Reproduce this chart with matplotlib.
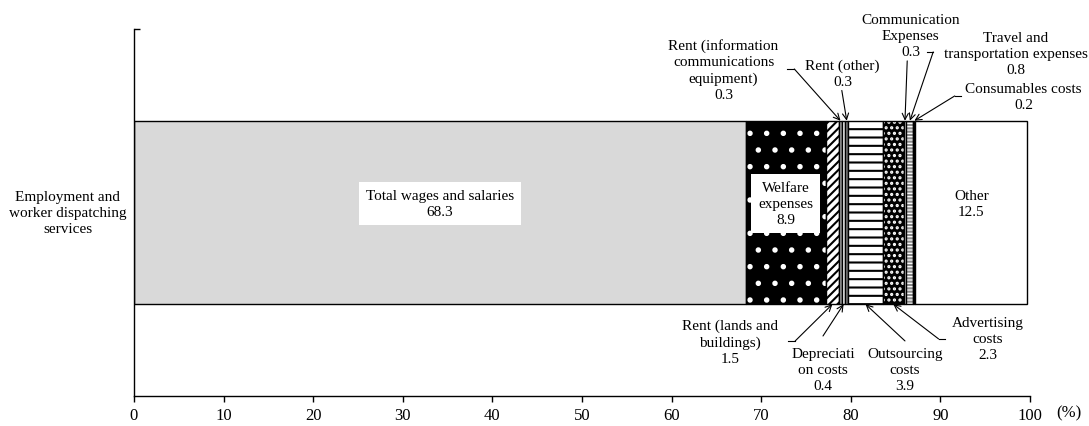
import numpy as np
import matplotlib
matplotlib.use("Agg")
import matplotlib.pyplot as plt

plt.rcParams['font.family'] = ['Liberation Serif', 'DejaVu Serif']
plt.rcParams['font.size'] = 11
plt.rcParams['hatch.linewidth'] = 1.5

category = "Employment and\nworker dispatching\nservices"
items = ["Total wages and salaries", "Welfare expenses", "Rent (lands and buildings)",
         "Rent (information communications equipment)", "Depreciation costs", "Rent (other)",
         "Outsourcing costs", "Advertising costs", "Communication Expenses",
         "Travel and transportation expenses", "Consumables costs", "Other"]
shares = [68.3, 8.9, 1.5, 0.3, 0.4, 0.3, 3.9, 2.3, 0.3, 0.8, 0.2, 12.5]

# fill, hatch colour, hatch pattern for each segment
fills = ['#d9d9d9', 'black', 'white', '#a6a6a6', 'white', '#7f7f7f',
         'white', 'black', 'white', 'white', 'black', 'white']
hatch_cols = ['black', 'white', 'black', 'black', 'black', 'black',
              'black', 'white', 'black', '#8c8c8c', 'black', 'black']
hatches = [None, '.', '////', None, None, None, '--', '...', None, '-----', None, None]

LS = 1.3

fig = plt.figure(figsize=(10.89, 4.27), dpi=100)
ax = fig.add_axes([0.123, 0.0703, 0.8228, 0.8595])

lefts = np.concatenate([[0], np.cumsum(shares)[:-1]])
for i in range(len(shares)):
    ax.barh(0, shares[i], left=lefts[i], height=1.0, color=fills[i],
            edgecolor=hatch_cols[i], hatch=hatches[i], linewidth=0)
    ax.barh(0, shares[i], left=lefts[i], height=1.0, fill=False,
            edgecolor='black', linewidth=1.0)

mids = lefts + np.array(shares) / 2
box = dict(facecolor='white', edgecolor='none', pad=5)
ax.text(mids[0], 0.05, f"{items[0]}\n{shares[0]}", ha='center', va='center',
        bbox=box, linespacing=LS)
ax.text(mids[1], 0.05, f"Welfare\nexpenses\n{shares[1]}", ha='center', va='center',
        bbox=box, linespacing=LS)
ax.text(mids[11], 0.05, f"{items[11]}\n{shares[11]}", ha='center', va='center',
        linespacing=LS)

arrow = dict(arrowstyle='->', lw=0.8, color='black', shrinkA=0, shrinkB=0)


def callout(idx, label, text_xy, start, stub=None, top=True):
    ty = 0.5 if top else -0.5
    ax.text(text_xy[0], text_xy[1], f"{label}\n{shares[idx]}", ha='center', va='center',
            linespacing=LS)
    ax.annotate('', xy=(mids[idx], ty), xytext=start, arrowprops=arrow,
                annotation_clip=False)
    if stub is not None:
        ax.plot(stub, [start[1], start[1]], color='black', lw=0.8, clip_on=False)


# labels above the bar
callout(3, "Rent (information\ncommunications\nequipment)", (65.8, 0.78), (73.7, 0.782), (72.9, 73.7))
callout(5, "Rent (other)", (79.1, 0.76), (79.0, 0.665))
callout(8, "Communication\nExpenses", (86.7, 0.967), (86.3, 0.826))
callout(9, "Travel and\ntransportation expenses", (98.4, 0.869), (89.2, 0.875), (88.5, 89.2))
callout(10, "Consumables costs", (99.3, 0.632), (91.6, 0.635), (91.6, 92.3))

# labels below the bar
callout(2, "Rent (lands and\nbuildings)", (66.5, -0.706), (73.8, -0.70), (73.0, 73.8), top=False)
callout(4, "Depreciati\non costs", (76.9, -0.858), (76.9, -0.673), top=False)
callout(6, "Outsourcing\ncosts", (86.05, -0.858), (86.05, -0.70), top=False)
callout(7, "Advertising\ncosts", (95.3, -0.689), (89.8, -0.689), (89.8, 90.5), top=False)

ax.set_xlim(0, 100)
ax.set_ylim(-1, 1)
ax.set_xticks(np.arange(0, 101, 10))
ax.tick_params(axis='x', direction='out', length=4, width=1, pad=4, labelsize=12)
ax.set_yticks([])
ax.set_yticks([1], minor=True)
ax.tick_params(axis='y', which='minor', direction='in', length=4, width=1)
ax.set_yticklabels([], minor=True)
for s in ['top', 'right']:
    ax.spines[s].set_visible(False)
for s in ['left', 'bottom']:
    ax.spines[s].set_linewidth(1.0)

ax.text(-7.37, 0, category, ha='center', va='center', linespacing=LS)
ax.text(1.043, -0.045, "(%)", transform=ax.transAxes, ha='center', va='center', fontsize=12)

fig.savefig("out.png", dpi=100)
